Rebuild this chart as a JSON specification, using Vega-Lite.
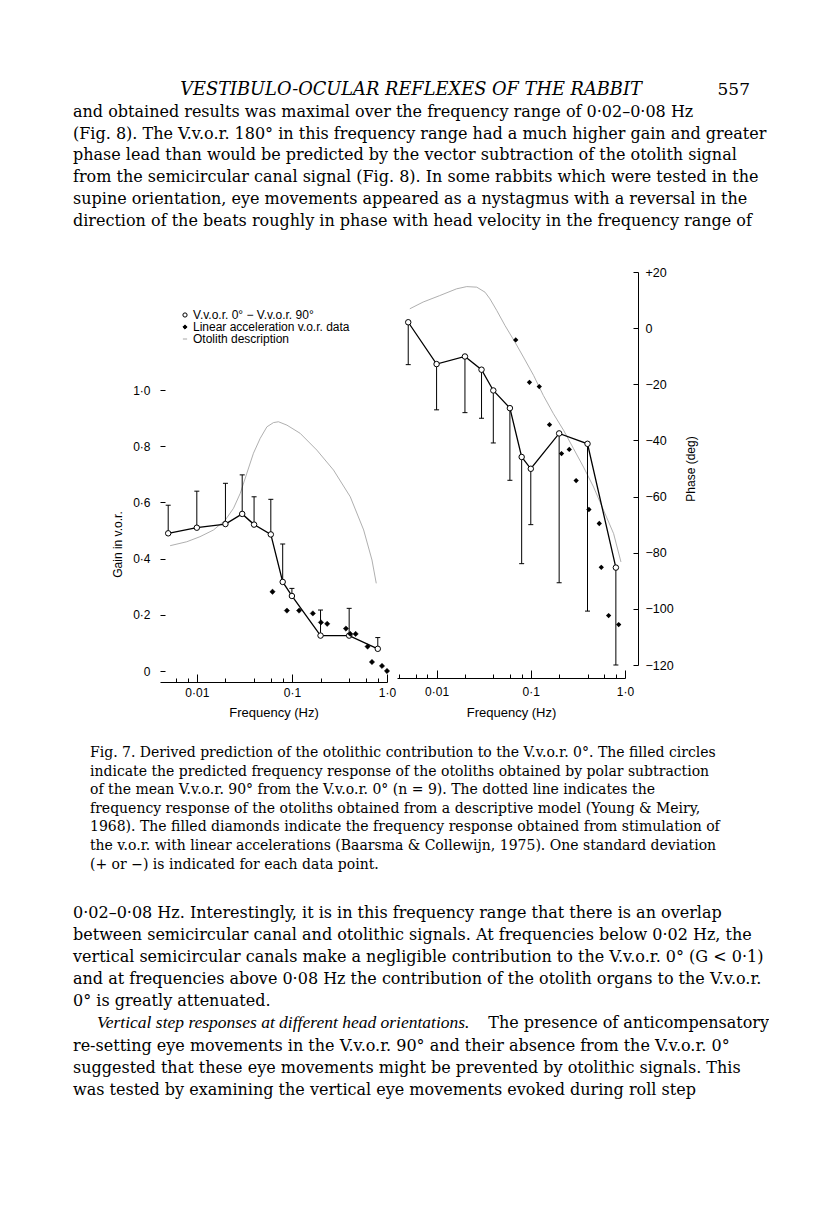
{
  "$schema": "https://vega.github.io/schema/vega-lite/v6.json",
  "padding": {"left": 73, "top": 0, "right": 0, "bottom": 0},
  "background": "white",
  "bounds": "full",
  "spacing": 0,
  "config": {
    "view": {"stroke": null},
    "axis": {"domainColor": "black", "tickColor": "black", "labelColor": "black", "titleColor": "black", "labelFont": "Liberation Sans", "titleFont": "Liberation Sans", "titleFontWeight": "normal", "labelFontSize": 12, "titleFontSize": 13, "grid": false, "domainWidth": 1, "tickWidth": 1},
    "legend": {"orient": "none", "legendX": 19, "legendY": 37, "title": null, "labelFont": "Liberation Sans", "labelFontSize": 12, "labelColor": "black", "symbolSize": 18, "rowPadding": 0, "labelOffset": 2, "symbolStrokeWidth": 1},
    "text": {"font": "DejaVu Serif", "color": "#000"}
  },
  "datasets": {
    "vvor": [
      {"freq": 0.005, "gain": 0.49, "gain_upper": 0.59, "phase": 2.1, "phase_lower": -13.0},
      {"freq": 0.01, "gain": 0.51, "gain_upper": 0.64, "phase": -12.8, "phase_lower": -29.1},
      {"freq": 0.02, "gain": 0.523, "gain_upper": 0.668, "phase": -10.1, "phase_lower": -30.1},
      {"freq": 0.03, "gain": 0.559, "gain_upper": 0.698, "phase": -14.8, "phase_lower": -32.1},
      {"freq": 0.04, "gain": 0.521, "gain_upper": 0.62, "phase": -22.2, "phase_lower": -40.9},
      {"freq": 0.06, "gain": 0.486, "gain_upper": 0.611, "phase": -28.5, "phase_lower": -54.2},
      {"freq": 0.08, "gain": 0.317, "gain_upper": 0.452, "phase": -45.9, "phase_lower": -83.9},
      {"freq": 0.1, "gain": 0.267, "gain_upper": 0.294, "phase": -50.1, "phase_lower": -70.0},
      {"freq": 0.2, "gain": 0.126, "gain_upper": 0.217, "phase": -37.5, "phase_lower": -90.7},
      {"freq": 0.4, "gain": 0.126, "gain_upper": 0.223, "phase": -41.2, "phase_lower": -100.8},
      {"freq": 0.8, "gain": 0.079, "gain_upper": 0.119, "phase": -85.3, "phase_lower": -120}
    ],
    "linacc_gain": [
      {"freq": 0.0625, "gain": 0.282},
      {"freq": 0.0886, "gain": 0.215},
      {"freq": 0.119, "gain": 0.215},
      {"freq": 0.166, "gain": 0.205},
      {"freq": 0.202, "gain": 0.173},
      {"freq": 0.235, "gain": 0.168},
      {"freq": 0.37, "gain": 0.151},
      {"freq": 0.411, "gain": 0.132},
      {"freq": 0.468, "gain": 0.132},
      {"freq": 0.625, "gain": 0.087},
      {"freq": 0.695, "gain": 0.032},
      {"freq": 0.886, "gain": 0.018},
      {"freq": 1.0, "gain": 0.0}
    ],
    "linacc_phase": [
      {"freq": 0.0692, "phase": -4.2},
      {"freq": 0.0968, "phase": -19.3},
      {"freq": 0.123, "phase": -20.8},
      {"freq": 0.158, "phase": -34.4},
      {"freq": 0.212, "phase": -44.7},
      {"freq": 0.256, "phase": -43.2},
      {"freq": 0.303, "phase": -54.3},
      {"freq": 0.414, "phase": -64.6},
      {"freq": 0.533, "phase": -69.6},
      {"freq": 0.56, "phase": -85.2},
      {"freq": 0.67, "phase": -102.4},
      {"freq": 0.857, "phase": -105.6}
    ],
    "oto_gain": [
      {"freq": 0.00524, "gain": 0.446},
      {"freq": 0.00785, "gain": 0.46},
      {"freq": 0.0108, "gain": 0.478},
      {"freq": 0.015, "gain": 0.502},
      {"freq": 0.0199, "gain": 0.537},
      {"freq": 0.0243, "gain": 0.579},
      {"freq": 0.0286, "gain": 0.632},
      {"freq": 0.0336, "gain": 0.704},
      {"freq": 0.0394, "gain": 0.775},
      {"freq": 0.0464, "gain": 0.828},
      {"freq": 0.0546, "gain": 0.869},
      {"freq": 0.064, "gain": 0.884},
      {"freq": 0.0722, "gain": 0.887},
      {"freq": 0.0886, "gain": 0.875},
      {"freq": 0.122, "gain": 0.846},
      {"freq": 0.183, "gain": 0.786},
      {"freq": 0.274, "gain": 0.715},
      {"freq": 0.411, "gain": 0.62},
      {"freq": 0.568, "gain": 0.502},
      {"freq": 0.695, "gain": 0.395},
      {"freq": 0.771, "gain": 0.312}
    ],
    "oto_phase": [
      {"freq": 0.0052, "phase": 6.9},
      {"freq": 0.0072, "phase": 9.3},
      {"freq": 0.0108, "phase": 11.6},
      {"freq": 0.0163, "phase": 14.0},
      {"freq": 0.0209, "phase": 14.8},
      {"freq": 0.0267, "phase": 14.6},
      {"freq": 0.0327, "phase": 12.8},
      {"freq": 0.0369, "phase": 10.4},
      {"freq": 0.0435, "phase": 6.3},
      {"freq": 0.0533, "phase": 0.9},
      {"freq": 0.068, "phase": -5.0},
      {"freq": 0.0835, "phase": -10.3},
      {"freq": 0.107, "phase": -16.8},
      {"freq": 0.136, "phase": -24.0},
      {"freq": 0.174, "phase": -30.5},
      {"freq": 0.223, "phase": -36.4},
      {"freq": 0.284, "phase": -42.9},
      {"freq": 0.363, "phase": -49.5},
      {"freq": 0.464, "phase": -56.6},
      {"freq": 0.593, "phase": -64.9},
      {"freq": 0.757, "phase": -73.2},
      {"freq": 0.906, "phase": -83.3}
    ],
    "head": [{"line": 0, "text": "VESTIBULO-OCULAR REFLEXES OF THE RABBIT"}],
    "folio": [{"line": 0, "text": "557"}],
    "para1": [
      {"line": 1, "text": "and obtained results was maximal over the frequency range of 0·02–0·08 Hz"},
      {"line": 2, "text": "(Fig. 8). The V.v.o.r. 180° in this frequency range had a much higher gain and greater"},
      {"line": 3, "text": "phase lead than would be predicted by the vector subtraction of the otolith signal"},
      {"line": 4, "text": "from the semicircular canal signal (Fig. 8). In some rabbits which were tested in the"},
      {"line": 5, "text": "supine orientation, eye movements appeared as a nystagmus with a reversal in the"},
      {"line": 6, "text": "direction of the beats roughly in phase with head velocity in the frequency range of"}
    ],
    "caption": [
      {"line": 0, "text": "Fig. 7. Derived prediction of the otolithic contribution to the V.v.o.r. 0°. The filled circles"},
      {"line": 1, "text": "indicate the predicted frequency response of the otoliths obtained by polar subtraction"},
      {"line": 2, "text": "of the mean V.v.o.r. 90° from the V.v.o.r. 0° (n = 9). The dotted line indicates the"},
      {"line": 3, "text": "frequency response of the otoliths obtained from a descriptive model (Young & Meiry,"},
      {"line": 4, "text": "1968). The filled diamonds indicate the frequency response obtained from stimulation of"},
      {"line": 5, "text": "the v.o.r. with linear accelerations (Baarsma & Collewijn, 1975). One standard deviation"},
      {"line": 6, "text": "(+ or −) is indicated for each data point."}
    ],
    "para2": [
      {"line": 0, "text": "0·02–0·08 Hz. Interestingly, it is in this frequency range that there is an overlap"},
      {"line": 1, "text": "between semicircular canal and otolithic signals. At frequencies below 0·02 Hz, the"},
      {"line": 2, "text": "vertical semicircular canals make a negligible contribution to the V.v.o.r. 0° (G < 0·1)"},
      {"line": 3, "text": "and at frequencies above 0·08 Hz the contribution of the otolith organs to the V.v.o.r."},
      {"line": 4, "text": "0° is greatly attenuated."},
      {"line": 6, "text": "re-setting eye movements in the V.v.o.r. 90° and their absence from the V.v.o.r. 0°"},
      {"line": 7, "text": "suggested that these eye movements might be prevented by otolithic signals. This"},
      {"line": 8, "text": "was tested by examining the vertical eye movements evoked during roll step"}
    ],
    "para2_italic": [{"line": 5, "text": "Vertical step responses at different head orientations."}],
    "para2_right": [{"line": 5, "text": "The presence of anticompensatory"}]
  },
  "vconcat": [
    {
      "width": 696,
      "height": 265.75,
      "encoding": {
        "y": {"field": "line", "type": "quantitative", "scale": {"domain": [-4.128, 8.062], "reverse": true, "nice": false, "zero": false}, "axis": null},
        "text": {"field": "text", "type": "nominal"}
      },
      "layer": [
        {"data": {"name": "head"}, "mark": {"type": "text", "align": "center", "baseline": "middle", "fontStyle": "italic", "fontSize": 17.8},
         "encoding": {"x": {"datum": 0.4856, "type": "quantitative", "scale": {"domain": [0, 1]}, "axis": null}}},
        {"data": {"name": "folio"}, "mark": {"type": "text", "align": "right", "baseline": "middle", "fontSize": 17},
         "encoding": {"x": {"datum": 0.9727, "type": "quantitative", "scale": {"domain": [0, 1]}, "axis": null}}},
        {"data": {"name": "para1"}, "mark": {"type": "text", "align": "left", "baseline": "middle", "fontSize": 16},
         "encoding": {"x": {"datum": 0, "type": "quantitative", "scale": {"domain": [0, 1]}, "axis": null}}}
      ]
    },
    {
      "bounds": "flush",
      "spacing": 10,
      "resolve": {"scale": {"shape": "independent", "fill": "independent", "stroke": "independent"}, "legend": {"shape": "independent", "fill": "independent", "stroke": "independent"}},
      "hconcat": [
        {"width": 77, "height": 399, "data": {"values": []}, "mark": "text", "encoding": {}},
        {
          "width": 227,
          "height": 399,
          "encoding": {
            "x": {"field": "freq", "type": "quantitative",
                  "scale": {"type": "log", "domain": [0.0041, 1.0], "nice": false},
                  "axis": {"orient": "bottom", "offset": 11, "title": "Frequency (Hz)", "titlePadding": 4,
                           "values": [0.004, 0.006, 0.008, 0.01, 0.02, 0.04, 0.06, 0.08, 0.1, 0.2, 0.4, 0.6, 0.8, 1],
                           "labelExpr": "datum.value == 0.01 ? '0·01' : datum.value == 0.1 ? '0·1' : datum.value == 1 ? '1·0' : ''",
                           "tickSize": {"condition": {"test": "datum.value == 0.01 || datum.value == 0.1 || datum.value == 1", "value": -8}, "value": -4},
                           "labelPadding": 13, "labelFlush": false, "labelOverlap": false}},
            "y": {"field": "gain", "type": "quantitative",
                  "scale": {"domain": [0, 1.42], "nice": false, "zero": false},
                  "axis": {"orient": "left", "domain": false, "title": "Gain in v.o.r.", "titleFontSize": 12, "titlePadding": 8, "titleY": 272,
                           "values": [0, 0.2, 0.4, 0.6, 0.8, 1.0],
                           "labelExpr": "datum.value == 0 ? '0' : replace(format(datum.value, '.1f'), '.', '·')",
                           "tickSize": -5, "labelPadding": 15}}
          },
          "layer": [
            {"data": {"name": "oto_gain"}, "mark": {"type": "line", "strokeWidth": 0.9},
             "encoding": {"stroke": {"datum": "Otolith description", "type": "nominal",
                                     "scale": {"domain": ["V.v.o.r. 0° − V.v.o.r. 90°", "Linear acceleration v.o.r. data", "Otolith description"], "range": ["black", "black", "#a6a6a6"]}}}},
            {"data": {"name": "vvor"}, "mark": {"type": "rule", "color": "black", "strokeWidth": 1},
             "encoding": {"y2": {"field": "gain_upper"}}},
            {"data": {"name": "vvor"}, "mark": {"type": "tick", "orient": "horizontal", "color": "black", "size": 5, "thickness": 1, "opacity": 1},
             "encoding": {"y": {"field": "gain_upper", "type": "quantitative"}}},
            {"data": {"name": "vvor"}, "mark": {"type": "line", "color": "black", "strokeWidth": 1.3}},
            {"data": {"name": "vvor"}, "mark": {"type": "point", "filled": true, "strokeWidth": 1, "size": 30, "opacity": 1},
             "encoding": {
               "shape": {"datum": "V.v.o.r. 0° − V.v.o.r. 90°", "type": "nominal",
                         "scale": {"domain": ["V.v.o.r. 0° − V.v.o.r. 90°", "Linear acceleration v.o.r. data", "Otolith description"], "range": ["circle", "diamond", "stroke"]}},
               "fill": {"datum": "V.v.o.r. 0° − V.v.o.r. 90°", "type": "nominal",
                        "scale": {"domain": ["V.v.o.r. 0° − V.v.o.r. 90°", "Linear acceleration v.o.r. data", "Otolith description"], "range": ["white", "black", "white"]}},
               "stroke": {"datum": "V.v.o.r. 0° − V.v.o.r. 90°", "type": "nominal"}}},
            {"data": {"name": "linacc_gain"}, "mark": {"type": "point", "filled": true, "strokeWidth": 0.5, "size": 28, "opacity": 1},
             "encoding": {
               "shape": {"datum": "Linear acceleration v.o.r. data", "type": "nominal"},
               "fill": {"datum": "Linear acceleration v.o.r. data", "type": "nominal"},
               "stroke": {"datum": "Linear acceleration v.o.r. data", "type": "nominal"}}},
            {"data": {"values": [{}]}, "mark": {"type": "rule", "color": "black", "strokeWidth": 1},
             "encoding": {"x": {"datum": 0.0041, "type": "quantitative"}, "y": {"datum": 0, "type": "quantitative"}, "y2": {"datum": 1}}}
          ]
        },
        {
          "width": 228,
          "height": 393,
          "encoding": {
            "x": {"field": "freq", "type": "quantitative",
                  "scale": {"type": "log", "domain": [0.0038, 1.0], "nice": false},
                  "axis": {"orient": "bottom", "offset": 13, "title": "Frequency (Hz)", "titlePadding": 5,
                           "values": [0.004, 0.006, 0.008, 0.01, 0.02, 0.04, 0.06, 0.08, 0.1, 0.2, 0.4, 0.6, 0.8, 1],
                           "labelExpr": "datum.value == 0.01 ? '0·01' : datum.value == 0.1 ? '0·1' : datum.value == 1 ? '1·0' : ''",
                           "tickSize": {"condition": {"test": "datum.value == 0.01 || datum.value == 0.1 || datum.value == 1", "value": -8}, "value": -4},
                           "labelPadding": 16, "labelFlush": false, "labelOverlap": false}},
            "y": {"field": "phase", "type": "quantitative",
                  "scale": {"domain": [-120, 20], "nice": false, "zero": false},
                  "axis": {"orient": "right", "offset": 13, "title": "Phase (deg)", "titleFontSize": 12, "titleAngle": 270, "titlePadding": 24,
                           "values": [-120, -100, -80, -60, -40, -20, 0, 20],
                           "labelExpr": "datum.value > 0 ? '+' + datum.value : datum.value < 0 ? '−' + abs(datum.value) : '0'",
                           "labelFontSize": 12.5, "tickSize": -5, "labelPadding": 12}}
          },
          "layer": [
            {"data": {"name": "oto_phase"}, "mark": {"type": "line", "color": "#a6a6a6", "strokeWidth": 0.9}},
            {"data": {"name": "vvor"}, "mark": {"type": "rule", "color": "black", "strokeWidth": 1},
             "encoding": {"y2": {"field": "phase_lower"}}},
            {"data": {"name": "vvor"}, "mark": {"type": "tick", "orient": "horizontal", "color": "black", "size": 5, "thickness": 1, "opacity": 1},
             "encoding": {"y": {"field": "phase_lower", "type": "quantitative"}}},
            {"data": {"name": "vvor"}, "mark": {"type": "line", "color": "black", "strokeWidth": 1.3}},
            {"data": {"name": "vvor"}, "mark": {"type": "point", "shape": "circle", "filled": true, "fill": "white", "stroke": "black", "strokeWidth": 1, "size": 30, "opacity": 1}},
            {"data": {"name": "linacc_phase"}, "mark": {"type": "point", "shape": "diamond", "filled": true, "color": "black", "size": 28, "opacity": 1}}
          ]
        }
      ]
    },
    {
      "width": 696,
      "height": 180,
      "data": {"name": "caption"},
      "mark": {"type": "text", "align": "left", "baseline": "middle", "fontSize": 14},
      "encoding": {
        "x": {"datum": 0.0244, "type": "quantitative", "scale": {"domain": [0, 1]}, "axis": null},
        "y": {"field": "line", "type": "quantitative", "scale": {"domain": [-1.83, 7.847], "reverse": true, "nice": false, "zero": false}, "axis": null},
        "text": {"field": "text", "type": "nominal"}
      }
    },
    {
      "width": 696,
      "height": 312,
      "encoding": {
        "y": {"field": "line", "type": "quantitative", "scale": {"domain": [-0.633, 13.485], "reverse": true, "nice": false, "zero": false}, "axis": null},
        "text": {"field": "text", "type": "nominal"}
      },
      "layer": [
        {"data": {"name": "para2"}, "mark": {"type": "text", "align": "left", "baseline": "middle", "fontSize": 16},
         "encoding": {"x": {"datum": 0, "type": "quantitative", "scale": {"domain": [0, 1]}, "axis": null}}},
        {"data": {"name": "para2_italic"}, "mark": {"type": "text", "align": "left", "baseline": "middle", "fontSize": 17.5, "fontStyle": "italic", "font": "Liberation Serif"},
         "encoding": {"x": {"datum": 0.0345, "type": "quantitative", "scale": {"domain": [0, 1]}, "axis": null}}},
        {"data": {"name": "para2_right"}, "mark": {"type": "text", "align": "right", "baseline": "middle", "fontSize": 16},
         "encoding": {"x": {"datum": 1, "type": "quantitative", "scale": {"domain": [0, 1]}, "axis": null}}}
      ]
    }
  ]
}
